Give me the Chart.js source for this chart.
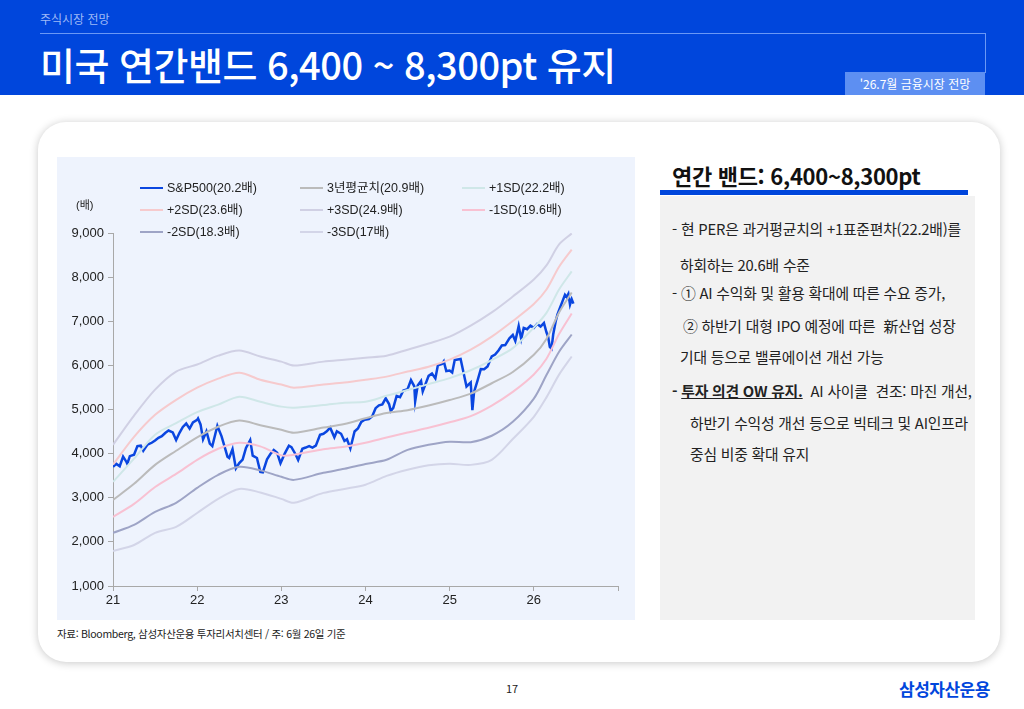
<!DOCTYPE html>
<html lang="ko">
<head>
<meta charset="utf-8">
<script src="https://cdn.jsdelivr.net/npm/chart.js@4.4.1/dist/chart.umd.min.js"></script>
<style>
  body { margin: 0; width: 1024px; height: 709px; position: relative; overflow: hidden; background: #fff;
         font-family: 'Noto Sans CJK KR', 'Noto Sans', sans-serif; color: #222; }
  .abs { position: absolute; white-space: nowrap; }
  #head { left: 0; top: 0; width: 1024px; height: 95px; background: #0046DC; }
  #card { left: 38px; top: 122px; width: 962px; height: 540px; border-radius: 28px; background: #fff;
          box-shadow: 0 1px 9px rgba(0,0,0,0.22); }
  #panel { left: 57px; top: 157px; width: 578px; height: 463px; background: #EEF3FD; }
  .leg { position: absolute; font-family: 'Liberation Sans', 'Noto Sans CJK KR', sans-serif; font-size: 12.5px;
         color: #222; line-height: 14px; white-space: nowrap; }
  .leg i { display: inline-block; width: 23px; height: 2px; vertical-align: middle; margin-right: 4px; position: relative; top: -1px; }
  .txt { position: absolute; left: 672px; font-size: 14.8px; color: #222; white-space: nowrap; line-height: 16px; letter-spacing: -0.2px; }
</style>
</head>
<body>
<div id="head" class="abs"></div>
<div class="abs" style="left:40px;top:10px;font-size:12px;color:#9FBAF7;">주식시장 전망</div>
<div class="abs" style="left:40px;top:33px;width:945px;height:1px;background:#6A98F5;"></div>
<div class="abs" style="left:985px;top:33px;width:1px;height:40px;background:#6A98F5;"></div>
<div class="abs" style="left:40px;top:36px;font-size:38px;font-weight:500;color:#fff;letter-spacing:-0.5px;">미국 연간밴드 6,400 ~ 8,300pt 유지</div>
<div class="abs" style="left:845px;top:72px;width:140px;height:23px;background:#5D8FF2;color:#fff;font-size:12px;line-height:23px;text-align:center;">'26.7월 금융시장 전망</div>

<div id="card" class="abs"></div>
<div id="panel" class="abs">
  <div style="position:absolute;left:0;top:0;width:578px;height:463px;">
    <canvas id="band_chart"></canvas>
  </div>
  <div id="legend_box"></div>
  <div class="leg" style="left:19px;top:41px;font-size:11px;">(배)</div>
</div>

<div class="abs" style="left:672px;top:159px;font-size:22px;font-weight:700;color:#111;letter-spacing:-0.3px;">연간 밴드: 6,400~8,300pt</div>
<div class="abs" style="left:660px;top:190px;width:308px;height:5px;background:#0046DC;"></div>
<div class="abs" style="left:660px;top:196px;width:315px;height:424px;background:#F2F2F2;"></div>

<div class="txt" style="top:221px;">- 현 PER은 과거평균치의 +1표준편차(22.2배)를</div>
<div class="txt" style="top:257px;left:680px;">하회하는 20.6배 수준</div>
<div class="txt" style="top:285px;">- ① AI 수익화 및 활용 확대에 따른 수요 증가,</div>
<div class="txt" style="top:318px;left:683px;">② 하반기 대형 IPO 예정에 따른 &nbsp;新산업 성장</div>
<div class="txt" style="top:349px;left:680px;">기대 등으로 밸류에이션 개선 가능</div>
<div class="txt" style="top:383px;"><b>- <u>투자 의견 OW 유지.</u></b> &nbsp;AI 사이클 &nbsp;견조: 마진 개선,</div>
<div class="txt" style="top:415px;left:690px;">하반기 수익성 개선 등으로 빅테크 및 AI인프라</div>
<div class="txt" style="top:446px;left:690px;">중심 비중 확대 유지</div>

<div class="abs" style="left:57px;top:626px;font-size:10.5px;color:#222;letter-spacing:-0.3px;">자료: Bloomberg, 삼성자산운용 투자리서치센터 / 주: 6월 26일 기준</div>
<div class="abs" style="left:506px;top:680px;font-size:11px;color:#222;">17</div>
<div class="abs" style="left:899px;top:676px;font-size:17px;font-weight:700;color:#0046DC;letter-spacing:-0.5px;">삼성자산운용</div>

<script>
// 밴드 (3년 평균 PER 기준) - 연도 소수점 (21 = 2021)
const band_x = [21.0, 21.25, 21.5, 21.75, 22.0, 22.25, 22.5, 22.75, 23.0, 23.15, 23.5, 23.75,
                24.0, 24.25, 24.5, 24.75, 25.0, 25.25, 25.5, 25.75, 26.0, 26.15, 26.3, 26.45];
const band_p3 = [4200, 4860, 5450, 5860, 6020, 6220, 6335, 6200, 6085, 5995, 6085, 6130,
                 6175, 6220, 6355, 6495, 6650, 6900, 7200, 7560, 7945, 8265, 8740, 8990];
const band_p2 = [3750, 4380, 4880, 5220, 5495, 5700, 5835, 5675, 5565, 5495, 5565, 5610,
                 5675, 5745, 5860, 5970, 6130, 6355, 6650, 7005, 7390, 7720, 8235, 8625];
const band_p1 = [3360, 3885, 4430, 4690, 4940, 5110, 5290, 5175, 5065, 5040, 5100, 5155,
                 5175, 5310, 5440, 5575, 5710, 5890, 6120, 6390, 6855, 7190, 7720, 8130];
const band_mean = [2950, 3315, 3745, 4065, 4370, 4610, 4750, 4645, 4540, 4475, 4590, 4670,
                   4800, 4920, 4985, 5090, 5215, 5360, 5595, 5850, 6240, 6600, 7200, 7650];
const band_m1 = [2565, 2860, 3245, 3540, 3860, 4110, 4245, 4165, 3960, 3975, 4100, 4155,
                 4245, 4365, 4480, 4585, 4710, 4850, 5090, 5400, 5795, 6150, 6710, 7175];
const band_m2 = [2205, 2385, 2680, 2885, 3225, 3520, 3700, 3620, 3475, 3405, 3565, 3655,
                 3765, 3860, 4085, 4200, 4270, 4260, 4405, 4720, 5245, 5780, 6310, 6700];
const band_m3 = [1795, 1930, 2205, 2340, 2655, 2975, 3200, 3120, 2975, 2885, 3110, 3200,
                 3295, 3495, 3635, 3735, 3770, 3745, 3860, 4330, 4835, 5275, 5790, 6200];

// S&P500 지수
const sp_x = [21.00,21.04,21.08,21.12,21.16,21.17,21.20,21.25,21.29,21.33,21.36,21.41,21.46,21.50,21.54,21.58,21.62,21.66,21.71,21.75,21.79,21.83,21.87,21.91,21.95,22.00,
              22.01,22.04,22.07,22.11,22.15,22.18,22.24,22.29,22.33,22.36,22.38,22.42,22.46,22.50,22.54,22.58,22.63,22.66,22.71,22.75,22.78,22.83,22.87,22.91,22.95,22.99,
              23.04,23.09,23.12,23.17,23.20,23.25,23.29,23.33,23.37,23.41,23.46,23.50,23.54,23.58,23.63,23.66,23.71,23.75,23.78,23.82,23.87,23.91,23.95,23.99,
              24.04,24.08,24.12,24.16,24.20,24.24,24.28,24.30,24.33,24.37,24.41,24.45,24.50,24.54,24.58,24.59,24.62,24.66,24.68,24.75,24.79,24.83,24.86,24.91,24.93,24.96,25.00,
              25.03,25.06,25.13,25.20,25.25,25.27,25.29,25.33,25.37,25.41,25.45,25.50,25.54,25.58,25.62,25.66,25.71,25.75,25.78,25.82,25.85,25.88,25.92,25.96,26.00,
              26.04,26.08,26.12,26.15,26.17,26.19,26.21,26.23,26.26,26.28,26.31,26.34,26.37,26.39,26.41,26.43,26.45,26.47];
const sp_y = [3700,3768,3714,3934,3811,3768,3943,3973,4170,4181,4063,4204,4246,4298,4360,4395,4468,4523,4480,4308,4471,4605,4682,4567,4709,4766,
              4796,4662,4326,4504,4225,4170,4631,4392,4132,3930,3901,4101,3667,3785,3863,4130,4305,3955,3901,3586,3577,3872,3992,4080,4019,3783,
              3999,4179,4148,3981,3855,4109,4138,4169,4136,4180,4425,4450,4505,4589,4370,4508,4450,4288,4327,4117,4502,4568,4719,4770,
              4784,4846,5030,5096,5117,5254,5123,4967,5036,5308,5278,5432,5460,5667,5522,5186,5543,5648,5408,5762,5815,5705,6001,6032,6090,5872,5882,
              5836,6119,6144,5521,5612,4983,5397,5650,5917,5912,5977,6205,6244,6339,6450,6460,6615,6688,6552,6890,6600,6850,6820,6900,6850,
              6940,6880,6960,6750,6650,6420,6380,6700,7000,7150,7300,7450,7600,7550,7620,7380,7500,7400];

const x_ticks = [21, 22, 23, 24, 25, 26];

function pts(xs, ys) {
    return xs.map(function(x, i) { return { x: x, y: ys[i] }; });
}

function band(label, ys, color) {
    return { label: label, data: pts(band_x, ys), borderColor: color, backgroundColor: color,
             borderWidth: 2, pointRadius: 0, tension: 0.3, order: 0 };
}

const datasets = [
    { label: 'S&P500(20.2배)', data: pts(sp_x, sp_y), borderColor: '#0A46E0', backgroundColor: '#0A46E0',
      borderWidth: 2.5, pointRadius: 0, tension: 0, order: 1 },
    band('3년평균치(20.9배)', band_mean, '#BBBBBB'),
    band('+1SD(22.2배)', band_p1, '#CFE7E8'),
    band('+2SD(23.6배)', band_p2, '#F6CACD'),
    band('+3SD(24.9배)', band_p3, '#D0D0E4'),
    band('-1SD(19.6배)', band_m1, '#F8C1D2'),
    band('-2SD(18.3배)', band_m2, '#9EA4C6'),
    band('-3SD(17배)', band_m3, '#D3D5E8')
];

const axisGrey = '#A8A8A8';
const tickFont = { family: "'Liberation Sans', Arial, sans-serif", size: 13 };

const myChart = new Chart(document.getElementById('band_chart').getContext('2d'), {
    type: 'line',
    data: { datasets: datasets },
    options: {
        responsive: true,
        maintainAspectRatio: false,
        animation: false,
        devicePixelRatio: 1,
        layout: { padding: { left: 0, right: 17, top: 76, bottom: 0 } },
        plugins: { legend: { display: false }, tooltip: { enabled: false } },
        scales: {
            x: {
                type: 'linear', min: 21, max: 27,
                afterBuildTicks: function(s) { s.ticks = x_ticks.concat([27]).map(function(v) { return { value: v }; }); },
                ticks: { color: '#222', font: tickFont, padding: 2, maxRotation: 0,
                         callback: function(v) { return v < 27 ? String(v) : ''; } },
                grid: { drawOnChartArea: false, drawTicks: true, tickLength: 5, color: axisGrey },
                border: { color: axisGrey },
                afterFit: function(s) { s.height = 34; }
            },
            y: {
                min: 1000, max: 9000,
                ticks: { stepSize: 1000, color: '#222', font: tickFont, padding: 4,
                         callback: function(v) { return v.toLocaleString('en-US'); } },
                grid: { drawOnChartArea: false, drawTicks: true, tickLength: 5, color: axisGrey },
                border: { color: axisGrey },
                afterFit: function(s) { s.width = 56; }
            }
        }
    }
});

// 범례 (3열 배치)
const legCols = [83, 243, 405];
const legRows = [24, 46, 68];
const box = document.getElementById('legend_box');
myChart.data.datasets.forEach(function(ds, i) {
    const d = document.createElement('div');
    d.className = 'leg';
    d.style.left = legCols[i % 3] + 'px';
    d.style.top = legRows[Math.floor(i / 3)] + 'px';
    d.innerHTML = '<i style="background:' + ds.borderColor + '"></i>' + ds.label;
    box.appendChild(d);
});
</script>
</body>
</html>
